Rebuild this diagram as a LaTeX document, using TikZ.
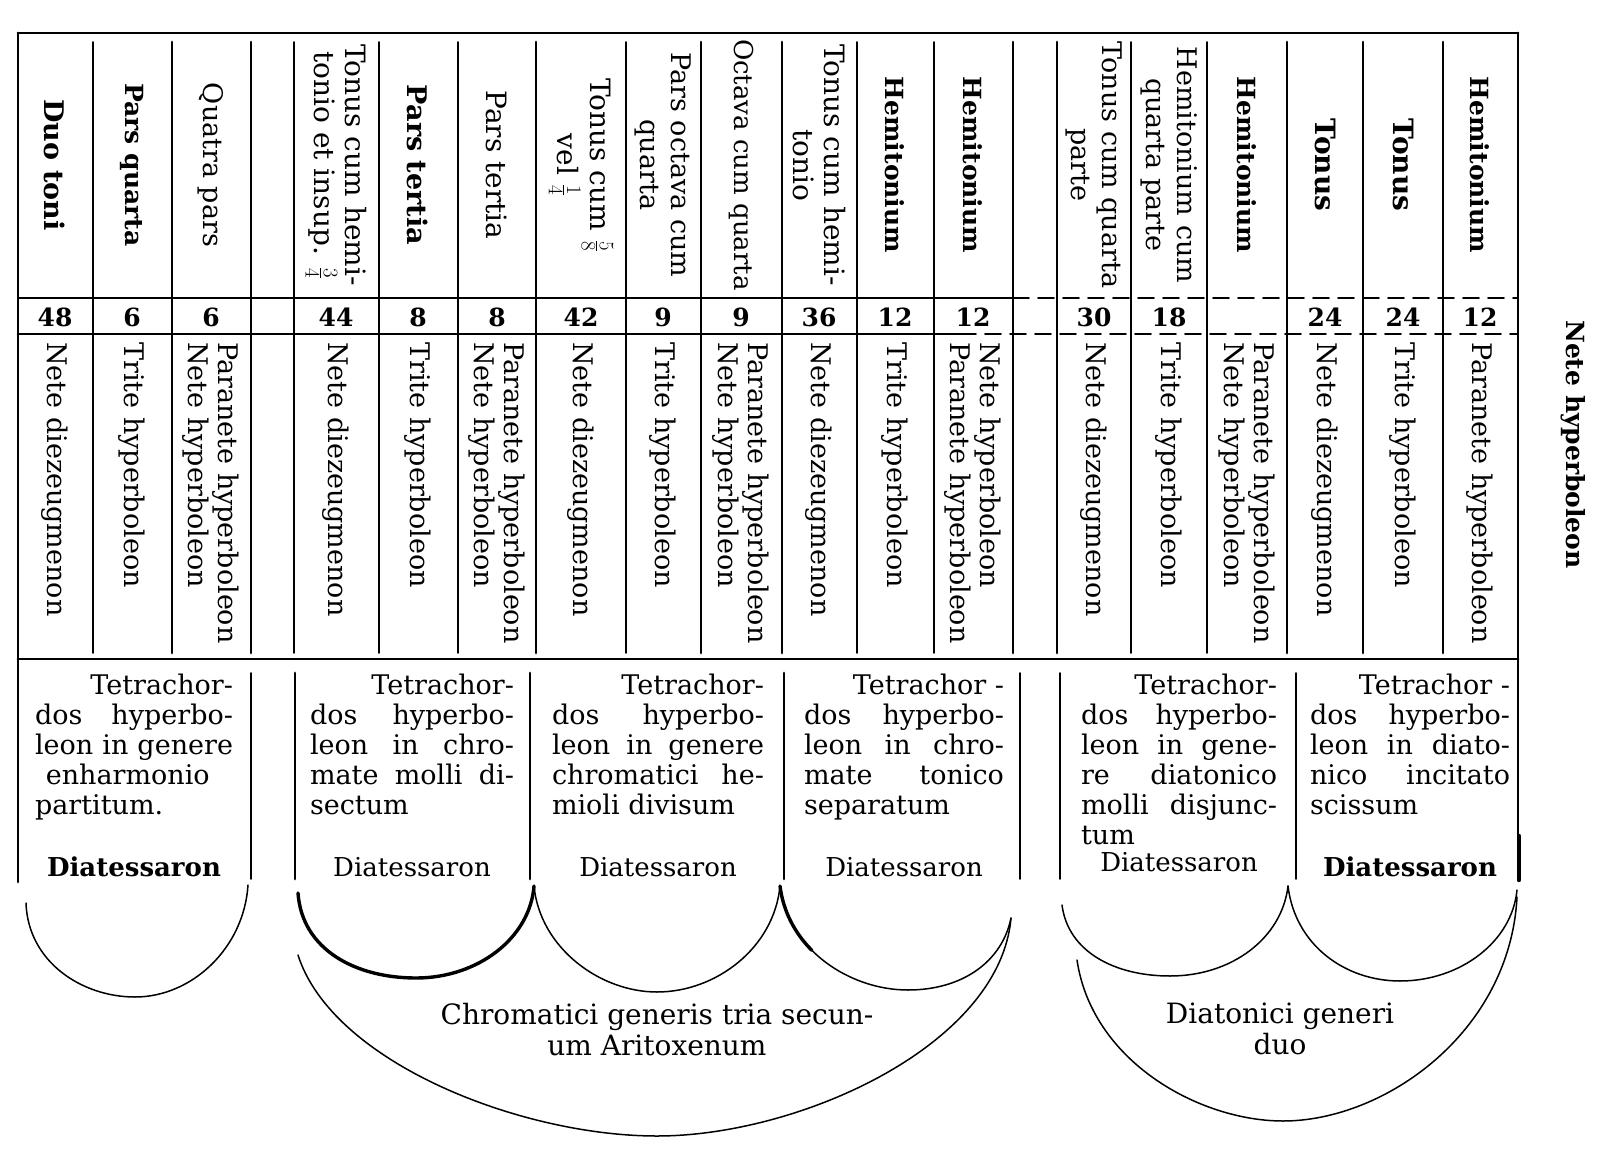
\documentclass[tikz,border=0pt]{standalone}
\usepackage{fontspec}
\setmainfont{DejaVu Serif}
\tikzstyle{rul}=[line width=1.6pt]
\tikzstyle{hvy}=[line width=2.8pt]
\tikzstyle{hd}=[rotate=-90,align=center,inner sep=0pt]
\tikzstyle{nt}=[rotate=-90,anchor=west,align=left,inner sep=0pt,font=\fontsize{27}{30}\selectfont]
\tikzstyle{nm}=[inner sep=0pt,font=\bfseries\fontsize{25}{28}\selectfont]
\tikzstyle{tx}=[anchor=north,align=justify,inner sep=0pt,font={\hyphenpenalty=10000 \fontsize{27}{30}\selectfont}]
\tikzstyle{ds}=[anchor=base,inner sep=0pt,font=\fontsize{26}{30}\selectfont]
\tikzstyle{lb}=[anchor=north,align=center,inner sep=0pt,font=\fontsize{28}{31}\selectfont]
\tikzstyle{bw}=[line width=1.5pt]
\tikzstyle{bwh}=[line width=3.4pt]

\begin{document}
\begin{tikzpicture}[x=1pt,y=-1pt,line cap=round]
\useasboundingbox (0,0) rectangle (1609,1150);
\draw[hvy] (18,33) -- (1518,33);
\draw[hvy] (18,33) -- (18,882);
\draw[hvy] (1518,33) -- (1518,880);
\draw[line width=4.4pt] (1519,836) -- (1519,880);
\draw[rul] (18,298) -- (1013,298);
\draw[rul,dash pattern=on 16pt off 9pt] (1013,298) -- (1518,298);
\draw[hvy] (18,334) -- (960,334);
\draw[rul,dash pattern=on 16pt off 9pt] (960,334) -- (1518,334);
\draw[hvy] (18,659) -- (1518,659);
\foreach \x/\s in {93/rul,172/hvy,251/hvy,294/rul,379/rul,458/rul,536/hvy,626/rul,701/hvy,782/hvy,857/rul,934/rul,1013/hvy,1057/hvy,1131/rul,1207/rul,1287/hvy,1363/hvy,1443/hvy}
  \draw[\s] (\x,42) -- (\x,653);
\foreach \x/\s in {251/rul,295/hvy,530/hvy,784/hvy,1020/rul,1060/rul,1296/rul}
  \draw[\s] (\x,673) -- (\x,879);
\foreach \c/\z/\t [count=\i] in {
  55/27/{\bfseries Duo toni},
  132/25/{\bfseries Pars quarta},
  211/27/{Quatra pars},
  336/28/{Tonus cum hemi-\\tonio et insup. $\frac{3}{4}$},
  418/27/{\bfseries Pars tertia},
  497/28/{Pars tertia},
  581/28/{Tonus cum $\frac{5}{8}$\\vel $\frac{1}{4}$},
  663/27/{Pars octava cum\\quarta},
  741/26/{Octava cum quarta},
  819/28/{Tonus cum hemi-\\tonio},
  895/25/{\bfseries Hemitonium},
  973/25/{\bfseries Hemitonium},
  1094/27/{Tonus cum quarta\\parte},
  1169/27/{Hemitonium cum\\quarta parte},
  1247/25/{\bfseries Hemitonium},
  1325/28/{\bfseries Tonus},
  1403/28/{\bfseries Tonus},
  1480/25/{\bfseries Hemitonium}}
  \node[hd,font=\fontsize{\z}{31}\selectfont] (h\i) at (\c,165) {\t};
\foreach \c/\v [count=\i] in {55/48,132/6,211/6,336/44,418/8,497/8,581/42,663/9,741/9,819/36,895/12,973/12,1094/30,1169/18,1325/24,1403/24,1480/12}
  \node[nm] (v\i) at (\c,317) {\v};
\foreach \c/\t [count=\i] in {
  55/{Nete diezeugmenon},
  132/{Trite hyperboleon},
  211/{Paranete hyperboleon\\Nete hyperboleon},
  336/{Nete diezeugmenon},
  418/{Trite hyperboleon},
  497/{Paranete hyperboleon\\Nete hyperboleon},
  581/{Nete diezeugmenon},
  663/{Trite hyperboleon},
  741/{Paranete hyperboleon\\Nete hyperboleon},
  819/{Nete diezeugmenon},
  895/{Trite hyperboleon},
  973/{Nete hyperboleon\\Paranete hyperboleon},
  1094/{Nete diezeugmenon},
  1169/{Trite hyperboleon},
  1247/{Paranete hyperboleon\\Nete hyperboleon},
  1325/{Nete diezeugmenon},
  1403/{Trite hyperboleon},
  1480/{Paranete hyperboleon}}
  \node[nt] (n\i) at (\c,342) {\t};
\node[nt,font=\bfseries\fontsize{25}{31}\selectfont] (nh) at (1573,320) {Nete hyperboleon};
\foreach \c/\w/\t [count=\i] in {
  134/198/{\hfill Tetrachor-\linebreak dos hyperbo-\linebreak leon in genere\linebreak \hspace*{.4em}enharmonio\\partitum.},
  412/204/{\hfill Tetrachor-\linebreak dos hyperbo-\linebreak leon in chro-\linebreak mate molli di-\linebreak sectum},
  658/212/{\hfill Tetrachor-\linebreak dos hyperbo-\linebreak leon in genere\linebreak chromatici he-\linebreak mioli divisum},
  904/200/{\hfill Tetrachor -\linebreak dos hyperbo-\linebreak leon in chro-\linebreak mate tonico\linebreak separatum},
  1179/196/{\hfill Tetrachor-\linebreak dos hyperbo-\linebreak leon in gene-\linebreak re diatonico\linebreak molli disjunc-\linebreak tum},
  1410/200/{\hfill Tetrachor -\linebreak dos hyperbo-\linebreak leon in diato-\linebreak nico incitato\linebreak scissum}}
  \node[tx,text width=\w pt] (t\i) at (\c,674) {\t};
\foreach \c/\y/\f [count=\i] in {134/876/\bfseries,412/876/,658/876/,904/876/,1179/871/,1410/876/\bfseries}
  \node[ds] (d\i) at (\c,\y) {\f Diatessaron};
\node[lb] (chr) at (657,1003) {Chromatici generis tria secun-\\um Aritoxenum};
\node[lb] (dia) at (1280,1003) {Diatonici generi\\duo};
\draw[bw] (26,903) .. controls (28,962) and (82,997) .. (135,997) .. controls (192,997) and (244,948) .. (248,885);
\draw[bwh] (298,893) .. controls (302,950) and (356,978) .. (416,978) .. controls (478,978) and (530,938) .. (534,886);
\draw[bw] (534,886) .. controls (540,948) and (600,992) .. (657,992) .. controls (716,992) and (774,948) .. (780,886);
\draw[bw] (780,886) .. controls (788,950) and (850,990) .. (908,990) .. controls (962,990) and (1002,962) .. (1011,918);
\draw[bwh] (780,886) .. controls (783.2,911.6) and (795,933.4) .. (811.8,950.3);
\draw[bw] (298,955) .. controls (332,1062) and (520,1136) .. (657,1136) .. controls (800,1136) and (1000,1045) .. (1011,918);
\draw[bw] (1062,905) .. controls (1068,952) and (1115,976) .. (1170,976) .. controls (1232,976) and (1282,938) .. (1288,886);
\draw[bw] (1288,886) .. controls (1295,945) and (1345,981) .. (1400,981) .. controls (1460,981) and (1512,942) .. (1517,890);
\draw[bw] (1077,960) .. controls (1092,1062) and (1200,1121) .. (1283,1121) .. controls (1385,1121) and (1510,1032) .. (1517,897);
\end{tikzpicture}
\end{document}
